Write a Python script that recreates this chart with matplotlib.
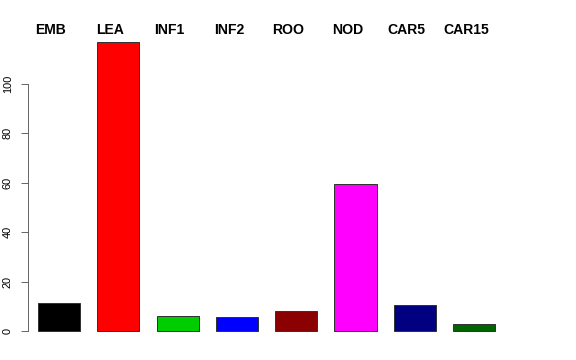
import matplotlib
matplotlib.use('Agg')
import matplotlib.pyplot as plt

tissues = ['EMB', 'LEA', 'INF1', 'INF2', 'ROO', 'NOD', 'CAR5', 'CAR15']
counts = [11.3, 117, 6, 5.5, 8.2, 59.3, 10.4, 3]
colors = ['black', 'red', '#00CD00', 'blue', '#8B0000', 'magenta', '#000080', '#006400']

plt.rcParams['font.family'] = ['Liberation Sans', 'DejaVu Sans']

fig = plt.figure(figsize=(8, 5), dpi=72)
ax = fig.add_axes([0, 0, 1, 1])

bar_w = 0.71
x = list(range(len(tissues)))
ax.bar(x, counts, width=bar_w, color=colors, edgecolor='#333333', linewidth=1)

# tissue names above the plot, slightly left of each bar centre
for i, name in enumerate(tissues):
    ax.text(i - 0.135, 120.2, name, ha='center', va='baseline',
            fontsize=14, fontweight='bold')

ax.set_xlim(-0.995, 8.718)
ax.set_ylim(-11.73, 133.84)

# R-style y axis
for s in ['top', 'right', 'bottom']:
    ax.spines[s].set_visible(False)
ax.spines['left'].set_position(('data', -0.523))
ax.spines['left'].set_bounds(0, 100)
ax.spines['left'].set_color('#444444')
ax.set_yticks([0, 20, 40, 60, 80, 100])
ax.tick_params(axis='y', length=7, pad=8, labelsize=11, colors='#444444', labelcolor='black')
plt.setp(ax.get_yticklabels(), rotation=90, va='center')
ax.set_xticks([])

fig.savefig('out.png', dpi=72)
